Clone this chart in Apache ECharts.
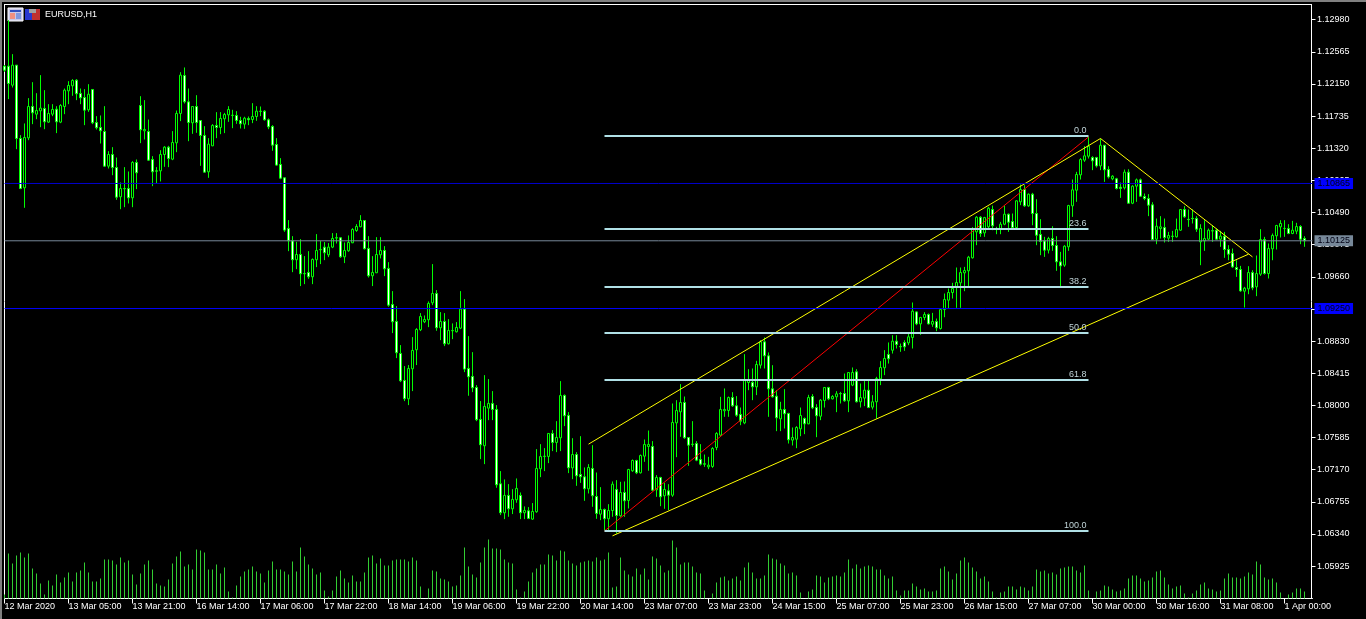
<!DOCTYPE html>
<html><head><meta charset="utf-8">
<style>html,body{margin:0;padding:0;background:#000;overflow:hidden}#c{width:1366px;height:619px}</style>
<script src="https://cdn.jsdelivr.net/npm/echarts@6/dist/echarts.min.js"></script>
</head><body><div id="c"></div>
<script>
// prices are written in points (1 point = 0.00001)
const opens=[112380,112380,112134,112393,111446,110809,111454,111859,111760,111803,
111833,111657,111760,111825,111657,111859,112061,112126,112199,112027,
111975,111816,112079,111652,111588,111536,111089,111239,111071,110693,
110800,110800,110680,111136,111872,111545,111536,111175,111028,111028,
111239,111334,111179,111390,111769,112259,111919,111648,111859,111678,
111485,111015,111351,111614,111588,111700,111751,111743,111743,111678,
111631,111704,111691,111730,111799,111799,111687,111601,111368,111110,
110938,110284,110125,109880,109948,109703,109716,109660,109880,110009,
110043,109944,110043,110164,110164,109918,109996,110099,110258,110306,
110387,110026,109673,109712,109944,110000,109768,109303,109083,108670,
108322,108085,108472,108718,108976,109079,109105,109324,109445,109002,
109083,108795,108963,108950,108997,109243,108476,108373,108231,107818,
107478,107964,108025,107947,106987,106613,106837,106664,106781,106837,
106613,106639,106531,106626,107181,107340,107340,107637,107521,107581,
108128,107870,107193,107365,107107,107077,106922,107185,106823,106595,
106655,106535,106642,106914,106574,106875,106772,107155,107288,107129,
107344,107469,107469,106909,107069,106832,106896,106840,107774,107916,
108037,107585,107499,107508,107301,107245,107206,107211,107456,107615,
107930,107934,108101,107994,107882,107774,108295,108295,108239,108519,
108820,108639,108213,108119,107826,107947,107895,107551,107563,107697,
107830,107761,108114,107972,107860,108063,108231,108084,108110,108153,
108153,108058,108261,108433,108046,108093,108196,107977,108046,108342,
108485,108657,108712,108829,108760,108811,108807,108876,109207,109052,
109134,109173,109048,109083,108992,109237,109358,109457,109530,109582,
109711,109737,109905,110240,110430,110227,110305,110529,110281,110270,
110339,110468,110374,110296,110628,110787,110576,110727,110477,110206,
110124,110004,110154,110064,109853,109810,110047,110576,110778,110976,
111166,111217,111200,111200,111092,111359,111045,110925,110925,110817,
110808,111011,110610,110830,110912,110697,110671,110589,110146,110283,
110296,110159,110185,110176,110262,110529,110402,110415,110413,110111,
110124,110146,110255,110262,110146,110185,110012,109961,109780,109754,
109474,109504,109715,109530,109694,110141,109702,110021,110189,110305,
110285,110283,110219,110249,110309,110154];
const closes=[112328,112156,112393,111446,110800,111459,111859,111777,111807,111838,
111661,111769,111820,111661,111872,112070,112130,112195,112023,111971,
111812,112018,111648,111584,111545,111089,111239,111071,110688,110800,
110796,110680,111136,111003,111558,111562,111166,111015,111024,111239,
111334,111188,111394,111769,112264,111919,111652,111859,111652,111485,
111011,111373,111614,111588,111704,111756,111820,111747,111678,111635,
111708,111687,111730,111799,111795,111687,111596,111360,111102,110934,
110263,110125,109880,109948,109699,109699,109660,109884,110000,110013,
109970,110043,110155,110160,109918,110000,110103,110271,110310,110387,
110022,109673,109716,109948,110000,109763,109294,109079,108679,108317,
108085,108476,108709,108980,109148,109109,109316,109445,109002,109083,
108795,108967,108967,109006,109243,108468,108369,108227,107814,107491,
107986,108025,107947,106974,106613,106837,106664,106785,106927,106613,
106643,106540,106630,107185,107340,107344,107637,107521,107586,108128,
107865,107194,107365,107090,107077,106922,107198,106832,106604,106655,
106535,106642,106982,106578,106875,106767,107172,107288,107129,107353,
107495,107495,106905,107069,106819,106914,106840,107779,107934,108037,
107581,107486,107495,107292,107241,107241,107228,107443,107637,107947,
107947,108101,107994,107873,107796,108325,108325,108239,108528,108820,
108639,108213,108110,107839,107947,107891,107555,107585,107714,107869,
107761,108101,107968,107865,108067,108231,108084,108114,108149,108149,
108058,108424,108424,108046,108101,108196,107972,108046,108347,108489,
108605,108601,108829,108786,108756,108756,108885,109216,109052,109134,
109173,109052,109083,109001,109237,109367,109457,109509,109586,109715,
109741,109913,110275,110430,110219,110425,110546,110318,110277,110339,
110468,110365,110296,110641,110787,110576,110727,110477,110197,110115,
110004,110154,110064,109853,109801,110055,110580,110783,110981,111174,
111222,111346,111157,111092,111359,111041,110950,110959,110800,110800,
111011,110610,110830,110912,110701,110671,110585,110141,110313,110305,
110167,110193,110181,110270,110529,110434,110398,110411,110275,110283,
110154,110262,110251,110146,110185,110012,109952,109788,109754,109478,
109513,109715,109517,109702,110141,109702,110025,110193,110322,110348,
110283,110219,110262,110309,110146,110125];
const highs=[112393,112974,112535,112393,111489,111640,111967,112173,112031,112264,
112070,111889,111889,111863,111889,112091,112186,112212,112212,112091,
112083,112147,112083,111734,111743,111863,111282,111334,111200,110878,
111076,111020,111153,111175,111992,111941,111691,111218,111076,111295,
111347,111351,111541,111807,112302,112363,112091,111859,112005,111678,
111605,111450,111631,111786,111786,111777,111863,111816,111799,111726,
111726,111730,111902,111863,111859,111812,111704,111618,111450,111192,
110938,110392,110185,110112,110146,109927,109991,109897,110211,110121,
110108,110095,110224,110224,110172,110103,110194,110288,110340,110456,
110392,110185,109927,110172,110172,110056,109849,109475,109281,108778,
108507,108520,108881,108997,109191,109161,109342,109824,109488,109204,
109191,109113,109058,109075,109475,109372,108894,108687,108261,108055,
108390,108339,108184,108003,107151,107043,106983,106918,107056,106875,
106695,106686,106738,107435,107499,107448,107642,107680,107796,108313,
108141,107913,107576,107396,107602,107198,107241,107486,107133,106944,
106668,106724,107017,107034,107013,107017,107180,107301,107297,107365,
107559,107675,107538,107099,107077,106999,106982,108024,108067,108274,
108114,107585,107796,107538,107499,107365,107335,107460,107654,108110,
108218,108114,108170,108119,107972,108661,108467,108476,108575,108842,
108876,108683,108519,108196,108046,108209,107904,107714,107731,107972,
107843,108136,108145,108015,108080,108231,108239,108132,108183,108175,
108411,108424,108489,108467,108282,108334,108334,108132,108368,108571,
108713,108812,108906,108906,108798,108841,108928,109328,109216,109143,
109203,109186,109194,109121,109246,109444,109509,109582,109780,109780,
109788,109930,110301,110443,110443,110434,110563,110580,110305,110369,
110580,110477,110477,110649,110851,110843,110735,110744,110662,110404,
110176,110176,110313,110184,109982,110068,110589,110916,111015,111191,
111346,111467,111217,111209,111445,111359,111088,110972,110938,110877,
111045,111049,110843,110929,110929,110735,110727,110623,110412,110443,
110412,110240,110253,110412,110533,110572,110529,110529,110443,110339,
110391,110283,110326,110283,110253,110240,110068,110025,109874,109801,
109530,109797,109745,109935,110275,110176,110090,110219,110331,110391,
110391,110339,110382,110357,110326,110184];
const lows=[112307,111954,112104,111308,110792,110551,111424,111631,111695,111592,
111566,111648,111734,111515,111644,111760,111889,111997,111941,111889,
111618,111790,111631,111562,111381,111080,111058,110972,110654,110533,
110559,110607,110559,110792,111386,111433,111157,110830,110869,110891,
111080,111076,111166,111269,111670,111898,111411,111506,111519,111093,
111003,110938,111347,111450,111502,111515,111661,111579,111635,111575,
111571,111618,111644,111674,111734,111678,111566,111287,111093,110921,
110241,109991,109720,109759,109540,109565,109634,109565,109785,109824,
109875,109914,110030,110090,109905,109837,109983,110095,110241,110300,
110013,109651,109540,109708,109897,109669,109273,108933,108610,108300,
108055,108003,108184,108520,108959,109062,109010,109294,108963,108842,
108765,108786,108855,108941,108984,108429,108124,108171,107796,107306,
107241,107809,107809,106936,106583,106531,106561,106596,106742,106531,
106531,106531,106522,106613,107073,107151,107254,107409,107396,107409,
107732,107125,107047,106961,106999,106767,106862,106690,106535,106518,
106388,106388,106561,106345,106561,106561,106668,107142,107112,107120,
107271,107155,106892,106819,106698,106664,106647,106819,107331,107594,
107568,107219,107465,107279,107223,107206,107176,107193,107421,107594,
107852,107852,107981,107852,107744,107757,108196,108067,108132,108476,
108476,107852,108101,107667,107667,107701,107507,107482,107447,107602,
107628,107757,107951,107589,107809,107972,108067,108076,107912,108024,
108046,107912,108248,108037,107972,107990,107964,107947,107830,108261,
108390,108540,108669,108734,108691,108704,108777,108734,109035,108910,
109100,109044,109014,108958,108979,109138,109250,109379,109259,109259,
109474,109530,109896,110068,110176,110176,110283,110262,110210,110210,
110326,110240,110279,110292,110585,110563,110563,110326,110068,109939,
109917,109961,109995,109737,109530,109788,109995,110434,110628,110916,
111144,111187,111037,111071,111037,110886,110929,110907,110787,110679,
110787,110606,110598,110628,110692,110649,110443,110133,110081,110154,
110103,110111,110111,110167,110253,110421,110305,110348,110240,109810,
109995,110133,110111,110133,110047,109905,109874,109775,109659,109466,
109263,109435,109487,109410,109672,109689,109638,109874,110012,110167,
110176,110210,110210,110210,110081,110047];
const volumes=[4,45,35,43,46,41,45,30,25,15,
4,18,13,24,16,21,26,17,26,28,
36,26,17,17,20,39,39,38,34,41,
36,38,24,14,25,34,38,29,15,13,
12,19,35,42,47,32,34,29,49,48,
46,29,29,34,25,31,7,1,13,22,
27,29,32,27,25,16,28,37,29,29,
27,24,37,27,51,42,34,30,24,26,
8,2,8,22,28,20,16,23,17,17,
26,41,43,35,40,33,33,38,39,39,
39,37,41,38,12,0,10,28,27,20,
19,17,12,13,23,51,32,24,21,36,
51,59,50,50,49,39,36,35,9,1,
7,17,26,30,34,34,44,43,38,48,
47,38,35,33,36,37,38,37,41,38,
39,46,11,12,41,28,24,22,30,24,
30,19,42,40,33,26,28,58,51,34,
36,36,32,26,25,8,0,5,16,21,
22,18,20,22,18,31,36,26,20,20,
23,44,40,39,35,33,25,26,23,6,
0,7,9,23,22,16,21,22,23,22,
26,39,30,34,30,32,33,32,29,29,
23,20,22,8,3,8,8,15,12,9,
10,7,7,8,30,32,27,19,25,38,
41,36,31,27,20,22,17,7,1,6,
7,12,12,9,12,11,8,12,29,27,
28,25,26,24,30,31,32,32,28,26,
33,8,0,7,8,13,12,9,7,8,
10,20,23,23,20,17,18,21,27,28,
21,14,10,12,13,5,1,5,8,14,
16,10,9,7,8,20,25,21,21,20,
22,26,24,37,34,21,19,20,16,6,
0,4,6,10,10,7];
const timeLabels=["12 Mar 2020","13 Mar 05:00","13 Mar 21:00","16 Mar 14:00","17 Mar 06:00","17 Mar 22:00","18 Mar 14:00","19 Mar 06:00","19 Mar 22:00","20 Mar 14:00","23 Mar 07:00","23 Mar 23:00","24 Mar 15:00","25 Mar 07:00","25 Mar 23:00","26 Mar 15:00","27 Mar 07:00","30 Mar 00:00","30 Mar 16:00","31 Mar 08:00","1 Apr 00:00"];
const priceTicks=[1.12980,1.12565,1.12150,1.11735,1.11320,1.10905,1.10490,1.10075,1.09660,1.09245,1.08830,1.08415,1.08000,1.07585,1.07170,1.06755,1.06340,1.05925];
const fibLevels=["0.0","23.6","38.2","50.0","61.8","100.0"];
const fibPoints=[111478,110277,109528,108934,108327,106378];
const fibBars=[150,271];
const redLine=[[150,106379],[271,111466]];
const upperChannel=[[146,107499],[274,111446]];
const lowerChannel=[[152,106315],[311,109952]];
const fallingLine=[[274,111446],[312,109917]];
const priceLines=[1.10865,1.09250,1.10125];

const FONT='"Liberation Sans",Arial,sans-serif';
const slots=328;
const categories=Array.from({length:slots},(_,i)=>i%16===0&&timeLabels[i/16]?timeLabels[i/16]:'b'+i);
const toP=v=>v/1e5;
const candleData=opens.map((o,i)=>[toP(o),toP(closes[i]),toP(lows[i]),toP(highs[i])]);
const lineSeries=(name,pts,color)=>({name,type:'line',data:pts.map(p=>[p[0],toP(p[1])]),showSymbol:false,symbol:'none',
  lineStyle:{color,width:1},silent:true,z:5,animation:false});
const priceLine=(v,bg,lineColor)=>({name:'Price '+v,type:'line',silent:true,z:7,symbol:'circle',symbolSize:0,showSymbol:true,clip:false,
  lineStyle:{color:lineColor,width:1},
  data:[[0,v],{value:[slots-1,v],label:{show:true,position:'right',distance:2,formatter:v.toFixed(5),color:'#000014',backgroundColor:bg,
    padding:[2,3,1,3],fontFamily:FONT,fontSize:9,lineHeight:8}}]});

const chart=echarts.init(document.getElementById('c'),null,{renderer:'canvas'});
chart.setOption({
  animation:false,backgroundColor:'#000',
  grid:{left:4.5,top:4.5,width:1308,height:594,containLabel:false},
  xAxis:{type:'category',data:categories,boundaryGap:false,
    axisLine:{onZero:false,lineStyle:{color:'#fff',width:1}},
    axisTick:{interval:15,length:5,lineStyle:{color:'#fff'}},
    axisLabel:{interval:15,align:'left',color:'#fff',fontFamily:FONT,fontSize:9,margin:4},
    splitLine:{show:false}},
  yAxis:[{type:'value',position:'right',offset:-1,min:1.05506,max:1.13176,
      axisLine:{show:true,lineStyle:{color:'#fff',width:1}},
      axisTick:{show:true,length:4,customValues:priceTicks,lineStyle:{color:'#fff'}},
      axisLabel:{customValues:priceTicks,color:'#fff',fontFamily:FONT,fontSize:9,margin:5.5,formatter:v=>v.toFixed(5)},
      splitLine:{show:false}},
    {type:'value',position:'left',min:0,max:594,
      axisLine:{show:true,onZero:false,lineStyle:{color:'#fff',width:1}},
      axisTick:{show:false},axisLabel:{show:false},splitLine:{show:false}}],
  title:{text:'EURUSD,H1',left:45,top:10,padding:0,textStyle:{color:'#fff',fontFamily:FONT,fontSize:9,fontWeight:'normal'}},
  series:[
    {name:'Volumes',type:'bar',yAxisIndex:1,data:volumes,barWidth:1,itemStyle:{color:'#32CD32'},silent:true,z:1},
    {name:'EURUSD',type:'candlestick',data:candleData,barWidth:3,silent:true,z:2,
      itemStyle:{color:'#000',color0:'#fff',borderColor:'#00FF00',borderColor0:'#00FF00',borderColorDoji:'#00FF00',borderWidth:1}},
    ...fibPoints.map((p,k)=>({name:'Fib '+fibLevels[k],type:'line',silent:true,z:6,symbol:'circle',symbolSize:0,showSymbol:true,
      lineStyle:{color:'#B0E0E6',width:2},
      data:[[fibBars[0],toP(p)],{value:[fibBars[1],toP(p)],
        label:{show:true,position:'top',align:'right',distance:1,offset:[-2,0],formatter:fibLevels[k],color:'#C0D4D8',fontFamily:FONT,fontSize:9}}]})),
    lineSeries('Trend',redLine,'#FF0000'),
    lineSeries('Channel high',upperChannel,'#FFFF00'),
    lineSeries('Channel low',lowerChannel,'#FFFF00'),
    lineSeries('Falling',fallingLine,'#FFFF00'),
    priceLine(priceLines[0],'#0000FF','#0000CD'),
    priceLine(priceLines[1],'#0000FF','#0000FF'),
    priceLine(priceLines[2],'#778899','#778899')
  ],
  graphic:[
    {type:'rect',shape:{x:0,y:0,width:1366,height:2},style:{fill:'#808080'},silent:true},
    {type:'rect',shape:{x:0,y:0,width:2,height:619},style:{fill:'#808080'},silent:true},
    {type:'rect',shape:{x:4,y:4,width:1308,height:1},style:{fill:'#fff'},silent:true},
    {type:'rect',shape:{x:8,y:8,width:15,height:13},style:{fill:'#C8C8E8',stroke:'#fff',lineWidth:1},silent:true},
    {type:'rect',shape:{x:10,y:10,width:11,height:2},style:{fill:'#3050C0'},silent:true},
    {type:'rect',shape:{x:10,y:13,width:5,height:6},style:{fill:'#F09080'},silent:true},
    {type:'rect',shape:{x:16,y:13,width:5,height:6},style:{fill:'#8098E0'},silent:true},
    {type:'rect',shape:{x:25,y:9,width:7,height:11},style:{fill:'#2838D0'},silent:true},
    {type:'rect',shape:{x:32,y:9,width:8,height:11},style:{fill:'#C03030'},silent:true},
    {type:'rect',shape:{x:29,y:9,width:7,height:4},style:{fill:'#A0A0A0'},silent:true}
  ]
});
</script></body></html>
